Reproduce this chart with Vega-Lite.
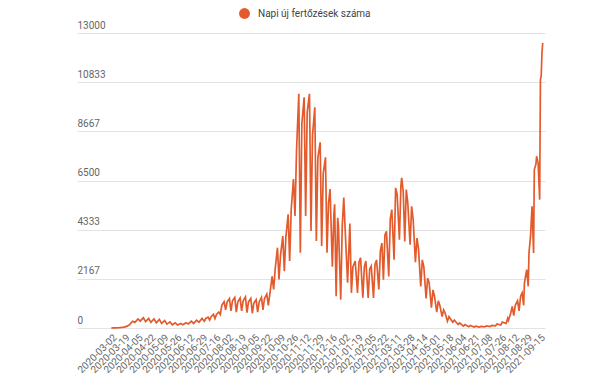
{
  "$schema": "https://vega.github.io/schema/vega-lite/v6.json",
  "width": 468,
  "height": 295,
  "autosize": {"type": "none"},
  "padding": {"left": 77, "top": 33, "right": 68, "bottom": 57},
  "background": "white",
  "config": {
    "view": {"stroke": null},
    "font": "Roboto"
  },
  "data": {
    "values": [
      {"d":"2020-03-02","v":0},{"d":"2020-03-05","v":2},{"d":"2020-03-09","v":5},{"d":"2020-03-12","v":10},{"d":"2020-03-16","v":30},
      {"d":"2020-03-19","v":40},{"d":"2020-03-23","v":80},{"d":"2020-03-26","v":150},{"d":"2020-03-30","v":300},
      {"d":"2020-04-02","v":250},{"d":"2020-04-06","v":400},{"d":"2020-04-09","v":300},{"d":"2020-04-13","v":450},
      {"d":"2020-04-16","v":280},{"d":"2020-04-20","v":420},{"d":"2020-04-23","v":250},{"d":"2020-04-27","v":400},
      {"d":"2020-04-30","v":230},{"d":"2020-05-04","v":380},{"d":"2020-05-07","v":200},{"d":"2020-05-11","v":330},
      {"d":"2020-05-14","v":170},{"d":"2020-05-18","v":270},{"d":"2020-05-21","v":140},{"d":"2020-05-25","v":230},
      {"d":"2020-05-28","v":130},{"d":"2020-06-01","v":200},{"d":"2020-06-04","v":140},{"d":"2020-06-08","v":230},
      {"d":"2020-06-11","v":180},{"d":"2020-06-15","v":300},{"d":"2020-06-18","v":200},{"d":"2020-06-22","v":340},
      {"d":"2020-06-25","v":250},{"d":"2020-06-29","v":420},
      {"d":"2020-07-02","v":300},{"d":"2020-07-04","v":420},{"d":"2020-07-07","v":480},
      {"d":"2020-07-09","v":350},{"d":"2020-07-11","v":500},{"d":"2020-07-14","v":600},
      {"d":"2020-07-16","v":420},{"d":"2020-07-18","v":600},{"d":"2020-07-21","v":700},
      {"d":"2020-07-23","v":600},{"d":"2020-07-25","v":1000},{"d":"2020-07-28","v":1160},
      {"d":"2020-07-30","v":800},{"d":"2020-08-01","v":1150},{"d":"2020-08-04","v":1300},
      {"d":"2020-08-06","v":750},{"d":"2020-08-08","v":1200},{"d":"2020-08-11","v":1350},
      {"d":"2020-08-13","v":700},{"d":"2020-08-15","v":1150},{"d":"2020-08-18","v":1320},
      {"d":"2020-08-20","v":750},{"d":"2020-08-22","v":1200},{"d":"2020-08-25","v":1370},
      {"d":"2020-08-27","v":680},{"d":"2020-08-29","v":1150},{"d":"2020-09-01","v":1300},
      {"d":"2020-09-03","v":650},{"d":"2020-09-05","v":1100},{"d":"2020-09-08","v":1250},
      {"d":"2020-09-10","v":700},{"d":"2020-09-12","v":1150},{"d":"2020-09-15","v":1350},
      {"d":"2020-09-17","v":800},{"d":"2020-09-19","v":1300},{"d":"2020-09-22","v":1500},
      {"d":"2020-09-24","v":1000},{"d":"2020-09-26","v":1500},{"d":"2020-09-29","v":2280},
      {"d":"2020-10-01","v":1700},{"d":"2020-10-03","v":2600},{"d":"2020-10-06","v":3540},
      {"d":"2020-10-08","v":2140},{"d":"2020-10-10","v":3200},{"d":"2020-10-13","v":4050},
      {"d":"2020-10-15","v":2500},{"d":"2020-10-17","v":4000},{"d":"2020-10-20","v":5010},
      {"d":"2020-10-22","v":2950},{"d":"2020-10-24","v":5200},{"d":"2020-10-27","v":6560},
      {"d":"2020-10-29","v":4940},{"d":"2020-10-31","v":7800},{"d":"2020-11-03","v":10320},
      {"d":"2020-11-05","v":3320},{"d":"2020-11-07","v":9000},{"d":"2020-11-10","v":10170},
      {"d":"2020-11-12","v":4940},{"d":"2020-11-14","v":9500},{"d":"2020-11-17","v":10320},
      {"d":"2020-11-19","v":4275},{"d":"2020-11-21","v":8500},{"d":"2020-11-24","v":9730},
      {"d":"2020-11-26","v":3830},{"d":"2020-11-28","v":7500},{"d":"2020-12-01","v":8180},
      {"d":"2020-12-03","v":3610},{"d":"2020-12-05","v":6800},{"d":"2020-12-08","v":7520},
      {"d":"2020-12-10","v":3320},{"d":"2020-12-12","v":5500},{"d":"2020-12-14","v":6120},
      {"d":"2020-12-17","v":2700},{"d":"2020-12-19","v":5000},{"d":"2020-12-20","v":5450},
      {"d":"2020-12-22","v":1400},{"d":"2020-12-24","v":4860},{"d":"2020-12-25","v":4500},
      {"d":"2020-12-28","v":1250},{"d":"2020-12-30","v":4500},{"d":"2021-01-01","v":5750},
      {"d":"2021-01-03","v":4200},{"d":"2021-01-06","v":2000},{"d":"2021-01-09","v":4600},
      {"d":"2021-01-11","v":1550},{"d":"2021-01-13","v":2700},{"d":"2021-01-16","v":2950},
      {"d":"2021-01-19","v":1548},{"d":"2021-01-21","v":2900},{"d":"2021-01-23","v":3100},
      {"d":"2021-01-26","v":1330},{"d":"2021-01-28","v":2700},{"d":"2021-01-30","v":2950},
      {"d":"2021-02-02","v":1327},{"d":"2021-02-04","v":2600},{"d":"2021-02-06","v":2730},
      {"d":"2021-02-09","v":1327},{"d":"2021-02-11","v":2800},{"d":"2021-02-13","v":3000},
      {"d":"2021-02-16","v":1700},{"d":"2021-02-18","v":3400},{"d":"2021-02-20","v":3744},
      {"d":"2021-02-22","v":2123},{"d":"2021-02-24","v":4100},{"d":"2021-02-26","v":4260},
      {"d":"2021-03-01","v":2270},{"d":"2021-03-03","v":4800},{"d":"2021-03-05","v":5218},
      {"d":"2021-03-08","v":3007},{"d":"2021-03-10","v":6177},{"d":"2021-03-12","v":5900},
      {"d":"2021-03-15","v":3892},{"d":"2021-03-17","v":6300},{"d":"2021-03-18","v":6619},{"d":"2021-03-20","v":6000},
      {"d":"2021-03-22","v":3818},{"d":"2021-03-24","v":6103},{"d":"2021-03-26","v":5500},
      {"d":"2021-03-29","v":3670},{"d":"2021-03-31","v":5366},{"d":"2021-04-02","v":4800},
      {"d":"2021-04-05","v":2900},{"d":"2021-04-07","v":3965},{"d":"2021-04-09","v":3500},
      {"d":"2021-04-12","v":1828},{"d":"2021-04-14","v":3000},{"d":"2021-04-16","v":2700},
      {"d":"2021-04-19","v":1300},{"d":"2021-04-21","v":2196},{"d":"2021-04-23","v":2000},
      {"d":"2021-04-26","v":900},{"d":"2021-04-28","v":1680},{"d":"2021-04-30","v":1400},
      {"d":"2021-05-03","v":700},{"d":"2021-05-05","v":1200},{"d":"2021-05-07","v":1000},
      {"d":"2021-05-10","v":500},{"d":"2021-05-12","v":800},{"d":"2021-05-14","v":650},
      {"d":"2021-05-17","v":300},{"d":"2021-05-19","v":500},{"d":"2021-05-24","v":250},{"d":"2021-05-26","v":350},
      {"d":"2021-05-31","v":150},{"d":"2021-06-02","v":220},{"d":"2021-06-07","v":80},{"d":"2021-06-09","v":150},
      {"d":"2021-06-14","v":60},{"d":"2021-06-16","v":110},{"d":"2021-06-21","v":40},{"d":"2021-06-23","v":80},
      {"d":"2021-06-28","v":40},{"d":"2021-06-30","v":70},{"d":"2021-07-05","v":50},{"d":"2021-07-07","v":90},
      {"d":"2021-07-12","v":60},{"d":"2021-07-14","v":110},{"d":"2021-07-19","v":90},{"d":"2021-07-21","v":180},
      {"d":"2021-07-26","v":130},{"d":"2021-07-28","v":260},{"d":"2021-08-02","v":200},{"d":"2021-08-04","v":430},
      {"d":"2021-08-05","v":330},{"d":"2021-08-08","v":650},{"d":"2021-08-10","v":955},{"d":"2021-08-12","v":550},
      {"d":"2021-08-14","v":1000},{"d":"2021-08-17","v":1200},{"d":"2021-08-19","v":750},{"d":"2021-08-21","v":1400},
      {"d":"2021-08-23","v":1550},{"d":"2021-08-25","v":1000},{"d":"2021-08-26","v":1983},{"d":"2021-08-29","v":2571},
      {"d":"2021-08-31","v":1836},{"d":"2021-09-01","v":3305},{"d":"2021-09-03","v":4040},{"d":"2021-09-05","v":5362},
      {"d":"2021-09-07","v":3305},{"d":"2021-09-08","v":6980},{"d":"2021-09-10","v":7200},{"d":"2021-09-11","v":7568},
      {"d":"2021-09-13","v":7270},{"d":"2021-09-15","v":5656},{"d":"2021-09-16","v":10944},{"d":"2021-09-17","v":11090},
      {"d":"2021-09-18","v":12120},{"d":"2021-09-19","v":12560}
    ]
  },
  "mark": {"type": "line", "strokeWidth": 1.7, "interpolate": "linear"},
  "encoding": {
    "x": {
      "field": "d",
      "type": "temporal",
      "title": null,
      "scale": {
        "type": "utc",
        "domain": [{"year": 2020, "month": 1, "date": 17, "utc": true}, {"year": 2021, "month": 9, "date": 22, "utc": true}]
      },
      "axis": {
        "values": [
          {"year":2020,"month":3,"date":2,"utc":true},{"year":2020,"month":3,"date":19,"utc":true},
          {"year":2020,"month":4,"date":5,"utc":true},{"year":2020,"month":4,"date":22,"utc":true},
          {"year":2020,"month":5,"date":9,"utc":true},{"year":2020,"month":5,"date":26,"utc":true},
          {"year":2020,"month":6,"date":12,"utc":true},{"year":2020,"month":6,"date":29,"utc":true},
          {"year":2020,"month":7,"date":16,"utc":true},{"year":2020,"month":8,"date":2,"utc":true},
          {"year":2020,"month":8,"date":19,"utc":true},{"year":2020,"month":9,"date":5,"utc":true},
          {"year":2020,"month":9,"date":22,"utc":true},{"year":2020,"month":10,"date":9,"utc":true},
          {"year":2020,"month":10,"date":26,"utc":true},{"year":2020,"month":11,"date":12,"utc":true},
          {"year":2020,"month":11,"date":29,"utc":true},{"year":2020,"month":12,"date":16,"utc":true},
          {"year":2021,"month":1,"date":2,"utc":true},{"year":2021,"month":1,"date":19,"utc":true},
          {"year":2021,"month":2,"date":5,"utc":true},{"year":2021,"month":2,"date":22,"utc":true},
          {"year":2021,"month":3,"date":11,"utc":true},{"year":2021,"month":3,"date":28,"utc":true},
          {"year":2021,"month":4,"date":14,"utc":true},{"year":2021,"month":5,"date":1,"utc":true},
          {"year":2021,"month":5,"date":18,"utc":true},{"year":2021,"month":6,"date":4,"utc":true},
          {"year":2021,"month":6,"date":21,"utc":true},{"year":2021,"month":7,"date":8,"utc":true},
          {"year":2021,"month":7,"date":26,"utc":true},{"year":2021,"month":8,"date":12,"utc":true},
          {"year":2021,"month":8,"date":29,"utc":true},{"year":2021,"month":9,"date":15,"utc":true}
        ],
        "labelExpr": "utcFormat(datum.value, '%Y-%m-%d')",
        "labelAngle": -45,
        "labelFont": "Roboto",
        "labelFontSize": 10,
        "labelColor": "#666666",
        "labelOverlap": false,
        "labelBound": false,
        "labelFlush": false,
        "labelPadding": 4,
        "ticks": false,
        "domain": false,
        "grid": false
      }
    },
    "y": {
      "field": "v",
      "type": "quantitative",
      "title": null,
      "scale": {"domain": [0, 13000], "nice": false},
      "axis": {
        "values": [0, 2167, 4333, 6500, 8667, 10833, 13000],
        "format": "d",
        "labelAlign": "left",
        "labelBaseline": "bottom",
        "labelPadding": 0,
        "labelOffset": -3,
        "labelFont": "Roboto",
        "labelFontSize": 10,
        "labelColor": "#666666",
        "labelBound": false,
        "labelFlush": false,
        "ticks": false,
        "tickSize": 0,
        "domain": false,
        "grid": true,
        "gridColor": "#e3e3e3",
        "gridWidth": 1
      }
    },
    "color": {
      "datum": "Napi új fertőzések száma",
      "scale": {"range": ["#e35b2d"]},
      "legend": {
        "title": null,
        "orient": "none",
        "legendX": 162,
        "legendY": -25,
        "symbolType": "circle",
        "symbolSize": 120,
        "symbolFillColor": "#e35b2d",
        "symbolStrokeColor": "#e35b2d",
        "symbolStrokeWidth": 0,
        "labelFont": "Roboto",
        "labelFontSize": 10,
        "labelColor": "#444444",
        "labelOffset": 8,
        "padding": 0
      }
    }
  }
}
